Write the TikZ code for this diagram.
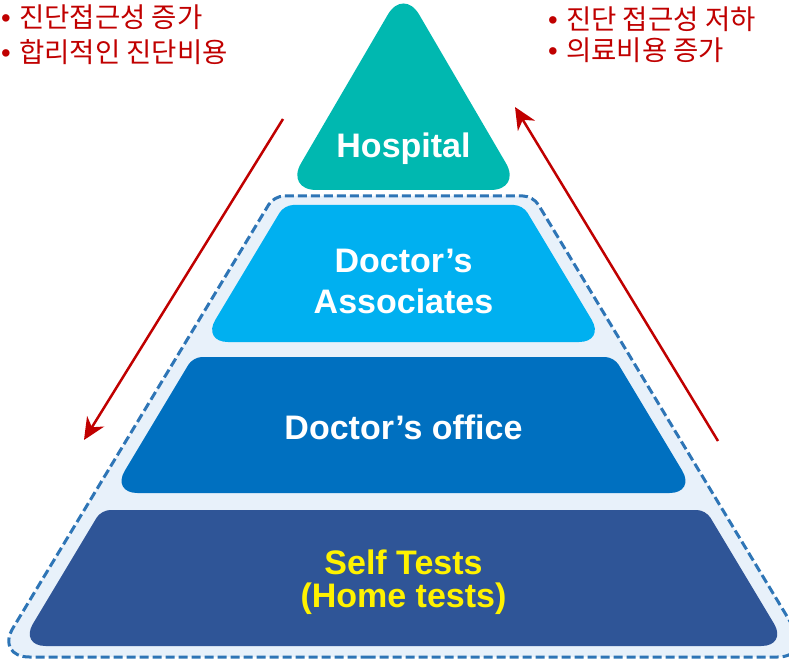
\documentclass[tikz,border=0pt]{standalone}
\usepackage{fontspec}
\setmainfont{Liberation Sans}
\newfontfamily\kofont{Noto Sans CJK KR}
\usetikzlibrary{arrows.meta}

\definecolor{hospitalcol}{HTML}{00B8B0}
\definecolor{assoccol}{HTML}{00B0F0}
\definecolor{officecol}{HTML}{0070C0}
\definecolor{selfcol}{HTML}{2F5597}
\definecolor{zonecol}{HTML}{2E75B6}
\definecolor{zonefill}{HTML}{E8F1FA}
\definecolor{notecol}{HTML}{C00000}

\newcommand\notebullet{\makebox[18pt][l]{\rmfamily •}}

\begin{document}
\begin{tikzpicture}[
 x=1pt, y=-1pt,
 tiertext/.style={text=white, font=\bfseries\fontsize{34}{41}\selectfont, align=center, inner sep=0pt},
 note/.style={text=notecol, font=\kofont\fontsize{27.5}{30}\selectfont, anchor=base west, inner sep=0pt},
 flow/.style={notecol, line width=2.5pt, -{Stealth[length=22pt,width=20pt,inset=7pt]}},
 zone/.style={fill=zonefill, draw=zonecol, line width=3pt, dash pattern=on 9pt off 4pt},
]
\useasboundingbox (0,0) rectangle (789,660);
\clip (0,0) rectangle (789,660);

% Dashed zone round the lower tiers
\draw[zone] (403.5,657) [rounded corners=34pt] -- ({392.3-0.604*657},657)
    [rounded corners=10pt] -- ({392.3-0.604*196},196) -- ({414.7+0.604*196},196)
    [rounded corners=34pt] -- ({414.7+0.604*657},657) -- cycle;

% Hospital
\fill[hospitalcol, rounded corners=31pt] (403.5,190) -- (285.4,190) -- (403.5,-12.2)
    -- (521.6,190) -- cycle;

% Lower tiers
\foreach \tier/\top/\bot in {assoc/205/342, office/357/493, self/510/646}
    \fill[\tier col] (403.5,\bot) [rounded corners=26pt] -- ({407.2-0.6*\bot},\bot)
        [rounded corners=9pt] -- ({407.2-0.6*\top},\top) -- ({399.8+0.6*\top},\top)
        [rounded corners=26pt] -- ({399.8+0.6*\bot},\bot) -- cycle;

% Labels
\node[tiertext, anchor=base] (hospital) at (403.5,158) {Hospital};
\node[tiertext] (assoc) at (403.5,281) {Doctor’s\\Associates};
\node[tiertext, anchor=base] (office) at (403.5,439) {Doctor’s office};
\node[tiertext, text=yellow, font=\bfseries\fontsize{34}{33}\selectfont] (self) at (403.5,582) {Self Tests\\(Home tests)};

% Notes
\node[note] (downnote1) at (1,28) {\notebullet 진단접근성 증가};
\node[note] (downnote2) at (1,63) {\notebullet 합리적인 진단비용};
\node[note] (upnote1) at (548,30) {\notebullet 진단 접근성 저하};
\node[note] (upnote2) at (548,61) {\notebullet 의료비용 증가};

% Arrows
\coordinate (downfrom) at (283,119);
\coordinate (downto) at (84,440);
\coordinate (upfrom) at (718,441);
\coordinate (upto) at (515,107);
\draw[flow] (downfrom) -- (downto);
\draw[flow] (upfrom) -- (upto);

\end{tikzpicture}
\end{document}
